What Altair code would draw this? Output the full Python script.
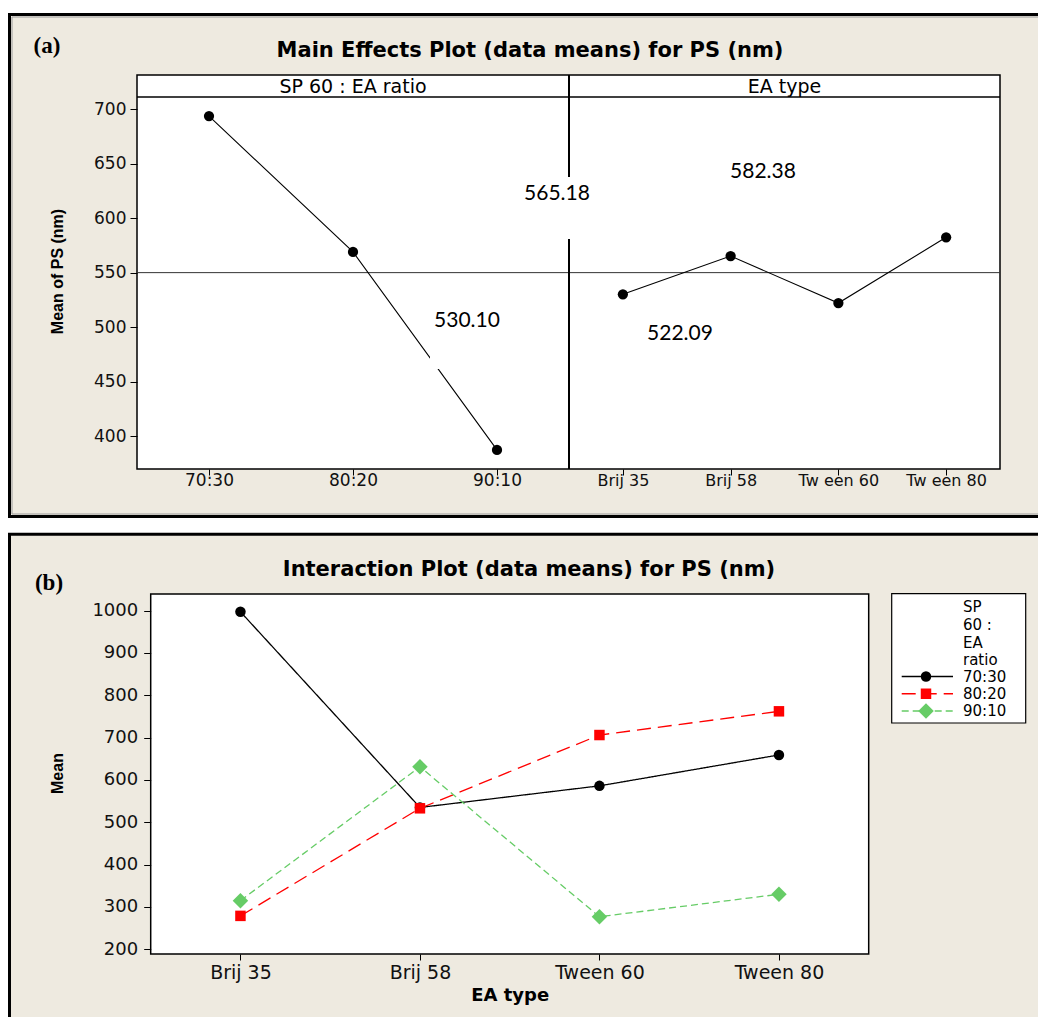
import altair as alt
import pandas as pd

# ---------------- data ----------------
RATIOS = ["70:30", "80:20", "90:10"]
RATIO_MEANS = [693.5, 569.0, 387.5]

EA_TYPES = ["Brij 35", "Brij 58", "Tween 60", "Tween 80"]
EA_MEANS = [530.10, 565.18, 522.09, 582.38]

GRAND_MEAN = 550.0

# interaction means (EA type x SP 60 : EA ratio)
MEANS_7030 = [997, 535, 586, 659]
MEANS_8020 = [279, 533, 706, 762]
MEANS_9010 = [315, 631, 277, 330]

MAIN_Y_TICKS = [400, 450, 500, 550, 600, 650, 700]
INTER_Y_TICKS = [200, 300, 400, 500, 600, 700, 800, 900, 1000]

LEGEND_TITLE = ["SP", "60 :", "EA", "ratio"]

# ---------------- styling ----------------
BEIGE = "#EEEAE0"
SERIES_COLORS = ["#000000", "#FF0000", "#66CC66"]
SERIES_DASHES = [[1, 0], [14, 7], [7, 4]]
SERIES_SHAPES = ["circle", "square", "diamond"]
MARKER_SIZE = 110
DIAMOND_SIZE = 240

W, H = 1038, 1017
SANS = "DejaVu Sans"

ratio_df = pd.DataFrame({"ratio": RATIOS, "mean": RATIO_MEANS, "i": range(len(RATIOS))})
ea_df = pd.DataFrame({"ea": EA_TYPES, "mean": EA_MEANS, "i": range(len(EA_TYPES))})
grand_df = pd.DataFrame({"v": [GRAND_MEAN]})

rows = []
for r, vals in zip(RATIOS, [MEANS_7030, MEANS_8020, MEANS_9010]):
    for i, (ea, v) in enumerate(zip(EA_TYPES, vals)):
        rows.append({"ratio": r, "ea": ea, "mean": v, "i": i})
inter_df = pd.DataFrame(rows)
legend_df = pd.DataFrame({"ratio": RATIOS})

ONE = pd.DataFrame({"k": [0]})


def box(x0, x1, y0, y1, fill, stroke=None, sw=0):
    kw = dict(fill=fill, strokeWidth=sw)
    if stroke:
        kw["stroke"] = stroke
    return alt.Chart(ONE).mark_rect(**kw).encode(
        x=alt.value(x0), x2=alt.value(x1), y=alt.value(y0), y2=alt.value(y1))


def hline(x0, x1, y, color="black", sw=1):
    return alt.Chart(ONE).mark_rule(color=color, strokeWidth=sw).encode(
        x=alt.value(x0), x2=alt.value(x1), y=alt.value(y))


def vline(x, y0, y1, color="black", sw=1):
    return alt.Chart(ONE).mark_rule(color=color, strokeWidth=sw).encode(
        x=alt.value(x), y=alt.value(y0), y2=alt.value(y1))


def label(txt, x, y, size, font=SANS, weight="normal", align="center", baseline="middle", **kw):
    return alt.Chart(ONE).mark_text(
        text=txt, font=font, fontSize=size, fontWeight=weight, align=align,
        baseline=baseline, color="black", **kw).encode(x=alt.value(x), y=alt.value(y))


AX = dict(domain=False, grid=False, tickColor="black", tickWidth=1,
          labelColor="#111111", labelFont=SANS, zindex=2)

# ---------------- panel (a): main effects ----------------
A_L, A_MID, A_R = 137, 569, 1000
A_STRIP_T, A_TOP, A_BOT = 75, 97, 469

a_y = alt.Scale(domain=[370, 711], range=[A_BOT, A_TOP], nice=False, zero=False)
a_x_left = alt.Scale(type="point", domain=RATIOS, range=[A_L, A_MID], padding=0.5)
a_x_right = alt.Scale(type="point", domain=EA_TYPES, range=[A_MID, A_R], padding=0.5)

a_y_axis = alt.Axis(orient="left", offset=-A_L, values=MAIN_Y_TICKS, tickSize=7,
                    labelPadding=4, labelFontSize=17, title="Mean of PS (nm)",
                    titleFont="Liberation Sans", titleFontWeight="bold", titleFontSize=16,
                    titleColor="black", titleAngle=270, titleAlign="center",
                    titleBaseline="middle", titleX=57 - A_L, titleY=271, **AX)
a_xl_axis = alt.Axis(orient="bottom", offset=A_BOT - H, tickSize=6, labelPadding=5,
                     labelBaseline="middle", labelFontSize=17, labelAngle=0, title=None, **AX)
a_xr_axis = alt.Axis(orient="bottom", offset=A_BOT - H, tickSize=6, labelPadding=5,
                     labelBaseline="middle", labelFontSize=16, labelAngle=0, title=None,
                     labelExpr="replace(datum.label, 'Tween', 'Tw een')", **AX)

a_left_line = alt.Chart(ratio_df).mark_line(color="black", strokeWidth=1.1).encode(
    x=alt.X("ratio:N", scale=a_x_left, axis=a_xl_axis),
    y=alt.Y("mean:Q", scale=a_y, axis=a_y_axis),
    order="i:Q")
a_left_pts = alt.Chart(ratio_df).mark_point(shape="circle", filled=True, size=105,
                                            color="black", opacity=1).encode(
    x=alt.X("ratio:N", scale=a_x_left, axis=None),
    y=alt.Y("mean:Q", scale=a_y, axis=None))

a_right_line = alt.Chart(ea_df).mark_line(color="black", strokeWidth=1.1).encode(
    x=alt.X("ea:N", scale=a_x_right, axis=a_xr_axis),
    y=alt.Y("mean:Q", scale=a_y, axis=None),
    order="i:Q")
a_right_pts = alt.Chart(ea_df).mark_point(shape="circle", filled=True, size=105,
                                          color="black", opacity=1).encode(
    x=alt.X("ea:N", scale=a_x_right, axis=None),
    y=alt.Y("mean:Q", scale=a_y, axis=None))

a_ref = alt.Chart(grand_df).mark_rule(color="#333333", strokeWidth=1).encode(
    x=alt.value(A_L), x2=alt.value(A_R),
    y=alt.Y("v:Q", scale=a_y, axis=None))

panel_a = [
    box(9.5, W + 10, 14.5, 516.5, BEIGE, "black", 3),
    box(12, W + 10, 17, 514, BEIGE, "#9a9a9a", 1),
    box(A_L, A_R, A_STRIP_T, A_BOT, "white", "black", 1.5),
    hline(A_L, A_R, A_TOP, sw=1.5),
    label("SP 60 : EA ratio", (A_L + A_MID) / 2, 87, 19),
    label("EA type", (A_MID + A_R) / 2, 87, 19),
    a_ref,
    vline(A_MID, A_STRIP_T, A_BOT, sw=2),
    a_left_line, a_left_pts, a_right_line, a_right_pts,
    # text boxes of the value annotations
    box(521, 600, 177, 239, "white"),
    box(430, 512, 300, 369, "white"),
    label(f"{EA_MEANS[1]:.2f}", 557, 194, 21, font="Lato"),
    label(f"{EA_MEANS[3]:.2f}", 763, 172, 21, font="Lato"),
    label(f"{EA_MEANS[0]:.2f}", 467, 321, 21, font="Lato"),
    label(f"{EA_MEANS[2]:.2f}", 680, 334, 21, font="Lato"),
    label("(a)", 47, 46, 23, font="Liberation Serif", weight="bold"),
    label("Main Effects Plot (data means) for PS (nm)", 530, 51, 21, weight="bold"),
]

# ---------------- panel (b): interaction ----------------
B_L, B_R, B_T, B_B = 150.7, 868.7, 594, 954

b_x = alt.Scale(type="point", domain=EA_TYPES, range=[B_L, B_R], padding=0.5)
b_y = alt.Scale(domain=[189, 1039], range=[B_B, B_T], nice=False, zero=False)
s_color = alt.Scale(domain=RATIOS, range=SERIES_COLORS)
s_dash = alt.Scale(domain=RATIOS, range=SERIES_DASHES)
s_shape = alt.Scale(domain=RATIOS, range=SERIES_SHAPES)
marker_size = alt.condition(alt.datum.ratio == RATIOS[2],
                            alt.value(DIAMOND_SIZE), alt.value(MARKER_SIZE))

b_y_axis = alt.Axis(orient="left", offset=-B_L, values=INTER_Y_TICKS, format="d",
                    tickSize=7, labelPadding=6, labelFontSize=18, title="Mean",
                    titleFont="Liberation Sans", titleFontWeight="bold", titleFontSize=16,
                    titleColor="black", titleAngle=270, titleAlign="center",
                    titleBaseline="middle", titleX=57 - B_L, titleY=773, **AX)
b_x_axis = alt.Axis(orient="bottom", offset=B_B - H, tickSize=6, labelPadding=12,
                    labelBaseline="middle", labelFontSize=19, labelAngle=0,
                    title="EA type", titleFont=SANS, titleFontWeight="bold", titleFontSize=18,
                    titleColor="black", titleAlign="center", titleBaseline="middle",
                    titleX=(B_L + B_R) / 2, titleY=41, **AX)

b_lines = alt.Chart(inter_df).mark_line(strokeWidth=1.3).encode(
    x=alt.X("ea:N", scale=b_x, axis=b_x_axis),
    y=alt.Y("mean:Q", scale=b_y, axis=b_y_axis),
    color=alt.Color("ratio:N", scale=s_color, legend=None),
    strokeDash=alt.StrokeDash("ratio:N", scale=s_dash, legend=None),
    order="i:Q")
b_pts = alt.Chart(inter_df).mark_point(filled=True, opacity=1).encode(
    x=alt.X("ea:N", scale=b_x, axis=None),
    y=alt.Y("mean:Q", scale=b_y, axis=None),
    color=alt.Color("ratio:N", scale=s_color, legend=None),
    shape=alt.Shape("ratio:N", scale=s_shape, legend=None),
    size=marker_size)

# legend box
LG_L, LG_R, LG_T, LG_B = 891.7, 1025.7, 593.7, 723
leg_y = alt.Scale(type="point", domain=RATIOS, range=[676.5, 711], padding=0)
leg_rules = alt.Chart(legend_df).mark_rule(strokeWidth=1.3).encode(
    x=alt.value(901.7), x2=alt.value(953),
    y=alt.Y("ratio:N", scale=leg_y, axis=None),
    color=alt.Color("ratio:N", scale=s_color, legend=None),
    strokeDash=alt.StrokeDash("ratio:N", scale=s_dash, legend=None))
leg_pts = alt.Chart(legend_df).mark_point(filled=True, opacity=1).encode(
    x=alt.value(926),
    y=alt.Y("ratio:N", scale=leg_y, axis=None),
    color=alt.Color("ratio:N", scale=s_color, legend=None),
    shape=alt.Shape("ratio:N", scale=s_shape, legend=None),
    size=marker_size)
leg_text = alt.Chart(legend_df).mark_text(font=SANS, fontSize=15, align="left",
                                          baseline="middle", color="black").encode(
    x=alt.value(963),
    y=alt.Y("ratio:N", scale=leg_y, axis=None),
    text="ratio:N")

panel_b = [
    box(9.5, W + 10, 534.2, H + 10, BEIGE, "black", 3),
    box(B_L, B_R, B_T, B_B, "white", "black", 1.5),
    box(LG_L, LG_R, LG_T, LG_B, "white", "black", 1.2),
    b_lines, b_pts,
    leg_rules, leg_pts, leg_text,
    alt.Chart(ONE).mark_text(text=LEGEND_TITLE, font=SANS, fontSize=15, align="left",
                             baseline="alphabetic", lineHeight=17.8, color="black").encode(
        x=alt.value(963), y=alt.value(612)),
    label("(b)", 49, 583, 23, font="Liberation Serif", weight="bold"),
    label("Interaction Plot (data means) for PS (nm)", 529, 570, 21, weight="bold"),
]

chart = alt.layer(*(panel_a + panel_b)).resolve_scale(
    x="independent", y="independent", color="independent",
    strokeDash="independent", shape="independent",
).resolve_axis(
    x="independent", y="independent",
).properties(
    width=W, height=H, padding=0, background="white",
    autosize=alt.AutoSizeParams(type="none"),
).configure_view(stroke=None)

chart.save("out.html", embed_options={"renderer": "svg", "actions": False})
